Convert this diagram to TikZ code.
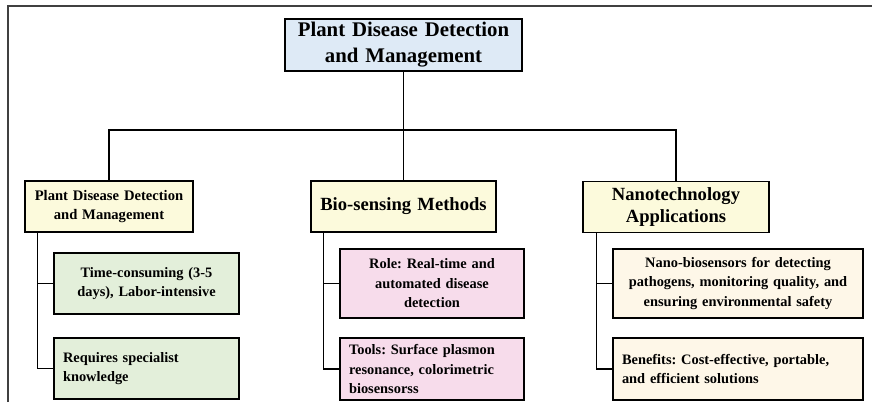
\documentclass[tikz,border=0pt]{standalone}
\usepackage{fontspec}
\setmainfont{Liberation Serif}
\frenchspacing
\definecolor{cblue}{HTML}{DEEAF6}
\definecolor{cyel}{HTML}{FCFADC}
\definecolor{cgreen}{HTML}{E3EFDA}
\definecolor{cpink}{HTML}{F7DCEB}
\definecolor{ccream}{HTML}{FEF7E8}
\definecolor{frame}{HTML}{404040}
\tikzset{
  boxbase/.style={draw=black, line width=1.5pt, inner xsep=9pt, inner ysep=0pt, align=center},
  lvl1/.style={boxbase, fill=cblue, minimum height=52pt, text width=#1, font=\bfseries\fontsize{20.8}{26}\selectfont},
  lvl2/.style={boxbase, fill=cyel, minimum height=51pt, text width=#1},
  leaf/.style={boxbase, text width=#1, font=\bfseries\fontsize{14.4}{19.5}\selectfont},
  conn/.style={draw=black, line width=1.4pt}
}
\begin{document}
\begin{tikzpicture}[x=1pt,y=-1pt]
\useasboundingbox (0,0) rectangle (872,402);
% outer frame fragment
\draw[frame, line width=1.3pt] (8,402) -- (8,6) -- (872,6);

\node[lvl1=219pt] (top) at (403.5,45) {Plant Disease Detection\\and Management};

\node[lvl2=150pt, font=\bfseries\fontsize{14.6}{19.4}\selectfont] (l2a) at (109,206.5) {Plant Disease Detection\\and Management};
\node[lvl2=167pt, font=\bfseries\fontsize{18.6}{22}\selectfont] (l2b) at (403.5,206.5) {Bio-sensing Methods};
\node[lvl2=168pt, font=\bfseries\fontsize{18.6}{22}\selectfont] (l2c) at (676,207) {Nanotechnology\\Applications};

\node[leaf=167pt, fill=cgreen, minimum height=61pt] (g1) at (146.5,283.5) {Time-consuming (3-5\\days), Labor-intensive};
\node[leaf=167pt, fill=cgreen, minimum height=61pt, align=left] (g2) at (146.5,368.5) {Requires specialist\\knowledge};

\node[leaf=166pt, fill=cpink, minimum height=69pt] (p1) at (432,283.5) {Role: Real-time and\\automated disease\\detection};
\node[leaf=166pt, fill=cpink, minimum height=62pt, align=left] (p2) at (432,369) {Tools: Surface plasmon\\resonance, colorimetric\\biosensorss};

\node[leaf=232pt, fill=ccream, minimum height=69pt] (c1) at (738,283.5) {Nano-biosensors for detecting\\pathogens, monitoring quality, and\\ensuring environmental safety};
\node[leaf=232pt, fill=ccream, minimum height=62pt, align=left] (c2) at (738,369) {Benefits: Cost-effective, portable,\\and efficient solutions};

% top tree
\coordinate (bus) at (0,130);
\draw[conn] (top.south) -- (l2b.north);
\draw[conn] (l2a.north) -- (l2a.north |- bus) -- (l2c.north |- bus) -- (l2c.north);

% side connectors
\draw[conn] ([xshift=13.3pt]l2a.south west) |- (g2.west);
\draw[conn] ([xshift=13.3pt]l2a.south west) |- (g1.west);
\draw[conn] ([xshift=13.3pt]l2b.south west) |- (p2.west);
\draw[conn] ([xshift=13.3pt]l2b.south west) |- (p1.west);
\draw[conn] ([xshift=14.3pt]l2c.south west) |- (c2.west);
\draw[conn] ([xshift=14.3pt]l2c.south west) |- (c1.west);
\end{tikzpicture}
\end{document}
